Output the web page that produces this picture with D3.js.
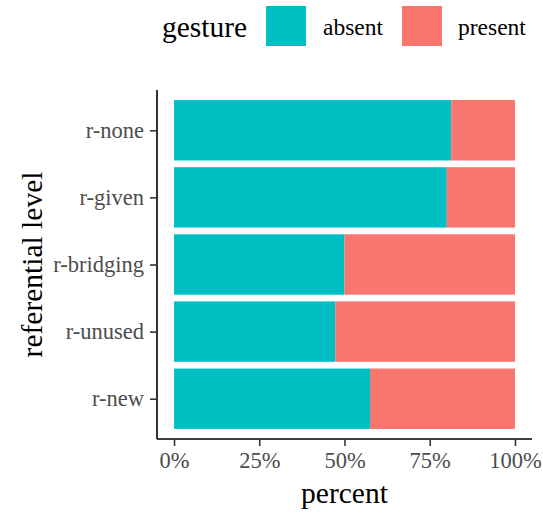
<!DOCTYPE html>
<html>
<head>
<meta charset="utf-8">
<script src="https://cdn.jsdelivr.net/npm/d3@7"></script>
<style>
  body { margin: 0; background: #fff; }
  svg { display: block; }
  text { font-family: "Liberation Serif", "Times New Roman", serif; }
</style>
</head>
<body>
<svg id="chart" width="543" height="513"></svg>
<script>
// Data
const categories = ["r-none", "r-given", "r-bridging", "r-unused", "r-new"];
const absentShare = [0.813, 0.80, 0.50, 0.473, 0.575];
const presentShare = absentShare.map(v => 1 - v);
const seriesNames = ["absent", "present"];
const seriesColors = ["#00BFC4", "#F8766D"];
const xTicks = [0, 0.25, 0.5, 0.75, 1];
const xTickLabels = ["0%", "25%", "50%", "75%", "100%"];

const svg = d3.select("#chart");
const panel = { left: 157, right: 532, top: 90, bottom: 439 };

const x = d3.scaleLinear()
  .domain([-0.05, 1.05])
  .range([panel.left, panel.right]);

const y = d3.scalePoint()
  .domain(categories)
  .range([panel.top, panel.bottom])
  .padding(0.6);
const barH = y.step() * 0.9;

// stacked data
const rows = categories.map((c, i) => ({ cat: c, absent: absentShare[i], present: presentShare[i] }));
const stack = d3.stack().keys(["present", "absent"]).order(d3.stackOrderNone);
// absent on left: absent from 0 to absent, present from absent to 1
const stacked = d3.stack().keys(["absent", "present"])(rows);

const color = d3.scaleOrdinal().domain(seriesNames).range(seriesColors);

svg.append("g").selectAll("g")
  .data(stacked)
  .join("g")
  .attr("fill", d => color(d.key))
  .selectAll("rect")
  .data(d => d)
  .join("rect")
  .attr("x", d => x(d[0]))
  .attr("width", d => x(d[1]) - x(d[0]))
  .attr("y", d => y(d.data.cat) - barH / 2)
  .attr("height", barH);

// X axis
const xAxis = d3.axisBottom(x)
  .tickValues(xTicks)
  .tickFormat((d, i) => xTickLabels[i])
  .tickSize(7)
  .tickPadding(6);
const gx = svg.append("g")
  .attr("transform", `translate(0,${panel.bottom})`)
  .call(xAxis);
gx.select(".domain").attr("stroke", "#000").attr("stroke-width", 1.6)
  .attr("d", `M${panel.left},0H${panel.right}`);
gx.selectAll(".tick line").attr("stroke", "#333").attr("stroke-width", 1.6);
gx.selectAll(".tick text")
  .attr("fill", "#4D4D4D")
  .style("font-size", "22.5px")
  .attr("dy", "0.71em");

// Y axis
const yAxis = d3.axisLeft(y).tickSize(7).tickPadding(6);
const gy = svg.append("g")
  .attr("transform", `translate(${panel.left},0)`)
  .call(yAxis);
gy.select(".domain").attr("stroke", "#000").attr("stroke-width", 1.6)
  .attr("d", `M0,${panel.top}V${panel.bottom}`);
gy.selectAll(".tick line").attr("stroke", "#333").attr("stroke-width", 1.6);
gy.selectAll(".tick text")
  .attr("fill", "#4D4D4D")
  .style("font-size", "22.5px");

// Axis titles
svg.append("text")
  .attr("x", (x(0) + x(1)) / 2)
  .attr("y", 503)
  .attr("text-anchor", "middle")
  .style("font-size", "29.5px")
  .attr("fill", "#000")
  .text("percent");

svg.append("text")
  .attr("transform", `translate(41.5,${(panel.top + panel.bottom) / 2}) rotate(-90)`)
  .attr("text-anchor", "middle")
  .style("font-size", "29.5px")
  .attr("fill", "#000")
  .text("referential level");

// Legend
const legend = svg.append("g");
legend.append("text")
  .attr("x", 162)
  .attr("y", 36.5)
  .style("font-size", "29.5px")
  .attr("fill", "#000")
  .text("gesture");
const keyX = [266, 402];
const labelX = [323, 458];
seriesNames.forEach((s, i) => {
  legend.append("rect")
    .attr("x", keyX[i]).attr("y", 6)
    .attr("width", 40).attr("height", 40)
    .attr("fill", color(s));
  legend.append("text")
    .attr("x", labelX[i]).attr("y", 35)
    .style("font-size", "23.5px")
    .attr("fill", "#000")
    .text(s);
});
</script>
</body>
</html>
